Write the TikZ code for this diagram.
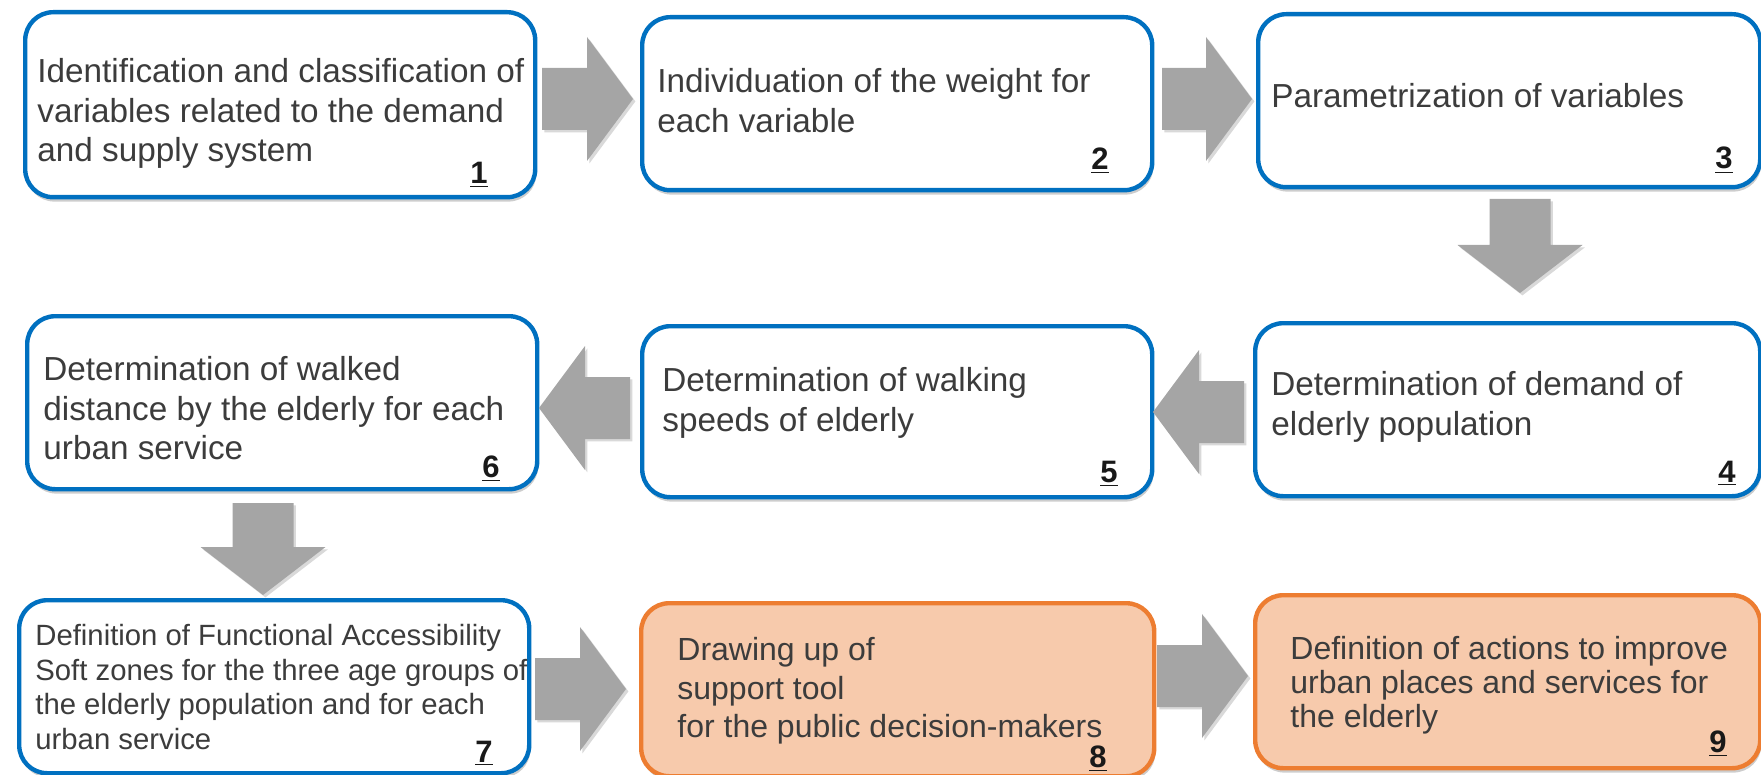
\documentclass[tikz,border=0pt]{standalone}
\usepackage{fontspec}
\setmainfont{Liberation Sans}
\usetikzlibrary{shadows}
\definecolor{bblue}{HTML}{0070C0}
\definecolor{borange}{HTML}{ED7D31}
\definecolor{pfill}{HTML}{F7CAAC}
\definecolor{agray}{HTML}{A5A5A5}
\definecolor{tgray}{HTML}{3C3C3C}
\tikzset{
  stepbox/.style={rectangle, rounded corners=14pt, line width=2.2pt, inner sep=0pt, anchor=north west,
    drop shadow={shadow xshift=0.6pt, shadow yshift=-2.2pt, opacity=0.28, fill=black!70}},
  bluebox/.style={stepbox, draw=bblue, fill=white},
  orangebox/.style={stepbox, draw=borange, fill=pfill},
  txt/.style={anchor=north west, inner sep=0pt, align=left, text=tgray, font=\fontsize{16.65}{19.75}\selectfont},
  txtsmall/.style={txt, font=\fontsize{14.65}{17.25}\selectfont},
  txtmid/.style={txt, font=\fontsize{16}{19.25}\selectfont},
  txtnine/.style={txt, font=\fontsize{16}{17}\selectfont},
  num/.style={anchor=base, inner sep=0pt, text=black!90, font=\bfseries\fontsize{15.5}{18}\selectfont},
  blockarr/.style={fill=agray, drop shadow={shadow xshift=1.2pt, shadow yshift=-1.2pt, opacity=0.25, fill=black!60}}
}
\newcommand\rightblock[3]{\fill[blockarr] (#1,#3-31) -- (#2-46,#3-31) -- (#2-46,#3-62) -- (#2,#3) -- (#2-46,#3+62) -- (#2-46,#3+31) -- (#1,#3+31) -- cycle;}
\newcommand\leftblock[3]{\fill[blockarr] (#1,#3-31) -- (#2+46,#3-31) -- (#2+46,#3-62) -- (#2,#3) -- (#2+46,#3+62) -- (#2+46,#3+31) -- (#1,#3+31) -- cycle;}
\newcommand\downblock[3]{\fill[blockarr] (#3-30.5,#1) -- (#3-30.5,#2-48) -- (#3-62.5,#2-48) -- (#3,#2) -- (#3+62.5,#2-48) -- (#3+30.5,#2-48) -- (#3+30.5,#1) -- cycle;}
\begin{document}
\begin{tikzpicture}[x=0.5pt, y=-0.5pt]
\useasboundingbox (0,0) rectangle (1761,775);
% boxes
\node[bluebox, minimum width=255pt, minimum height=92.5pt] (b1) at (23,10) {};
\node[bluebox, minimum width=255pt, minimum height=86.5pt] (b2) at (640,15) {};
\node[bluebox, minimum width=251pt, minimum height=86.5pt] (b3) at (1256,12) {};
\node[bluebox, minimum width=252.5pt, minimum height=86.5pt] (b4) at (1253,321) {};
\node[bluebox, minimum width=255pt, minimum height=85.5pt] (b5) at (640,324) {};
\node[bluebox, minimum width=255pt, minimum height=86.5pt] (b6) at (25,314) {};
\node[bluebox, minimum width=255pt, minimum height=86.5pt] (b7) at (17,598) {};
\node[orangebox, minimum width=256.5pt, minimum height=86.5pt] (b8) at (639,601) {};
\node[orangebox, minimum width=252.5pt, minimum height=86.5pt] (b9) at (1253,593) {};
% arrows
\rightblock{542}{633}{99}
\rightblock{1162}{1252}{99}
\downblock{199}{293}{1520}
\leftblock{1244}{1153}{412}
\leftblock{630}{539}{408}
\downblock{503}{595}{263}
\rightblock{535}{626}{689}
\rightblock{1157}{1248}{676}
% texts
\node[txt] (t1) at (37,58) {Identification and classification of\\variables related to the demand\\and supply system};
\node[txt] (t2) at (657,68) {Individuation of the weight for\\each variable};
\node[txt] (t3) at (1271,83) {Parametrization of variables};
\node[txt] (t4) at (1271,371) {Determination of demand of\\elderly population};
\node[txt] (t5) at (662,367) {Determination of walking\\speeds of elderly};
\node[txt] (t6) at (43,356) {Determination of walked\\distance by the elderly for each\\urban service};
\node[txtsmall] (t7) at (35,624) {Definition of Functional Accessibility\\Soft zones for the three age groups of\\the elderly population and for each\\urban service};
\node[txtmid] (t8) at (677,637) {Drawing up of\\support tool\\for the public decision-makers};
\node[txtnine] (t9) at (1290,636) {Definition of actions to improve\\urban places and services for\\the elderly};
% numbers
\node[num] (n1) at (479,184) {\underline{1}};
\node[num] (n2) at (1100,170) {\underline{2}};
\node[num] (n3) at (1724,169) {\underline{3}};
\node[num] (n4) at (1727,482) {\underline{4}};
\node[num] (n5) at (1109,482) {\underline{5}};
\node[num] (n6) at (491,477) {\underline{6}};
\node[num] (n7) at (484,762) {\underline{7}};
\node[num] (n8) at (1098,767) {\underline{8}};
\node[num] (n9) at (1718,752) {\underline{9}};
\end{tikzpicture}
\end{document}
